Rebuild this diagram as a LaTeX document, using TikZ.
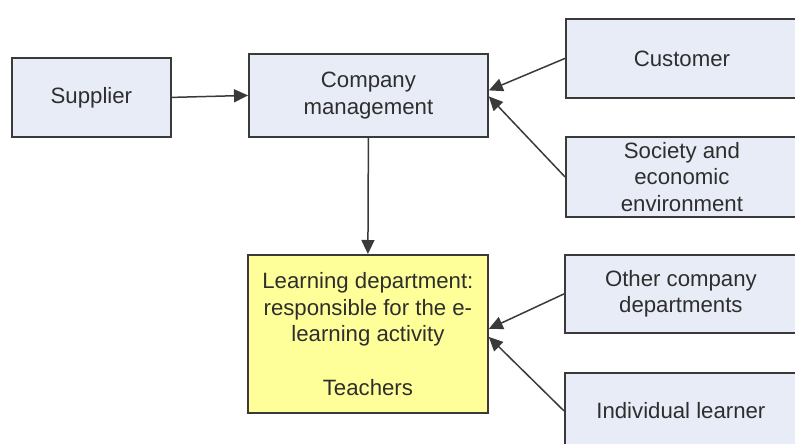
\documentclass[tikz,border=0pt]{standalone}
\usepackage{fontspec}
\setmainfont{Liberation Sans}
\usetikzlibrary{arrows.meta}
\definecolor{boxfill}{HTML}{E8ECF6}
\definecolor{yellowfill}{HTML}{FFFF99}
\definecolor{edge}{HTML}{3A3A3A}
\definecolor{txt}{HTML}{2E2E2E}
\tikzset{
  box/.style={draw=edge, line width=1.8pt, fill=boxfill, anchor=north west,
    inner sep=0pt, align=center, text=txt,
    font=\fontsize{22.2}{26.7}\selectfont},
  conn/.style={draw=edge, line width=1.5pt, -{Triangle[length=14pt,width=13pt]}}
}
\begin{document}
\begin{tikzpicture}[x=1pt,y=-1pt]
\useasboundingbox (0,0) rectangle (795,444);
\clip (0,0) rectangle (795,444);
\node[box, minimum width=159pt, minimum height=79pt] (sup) at (11,57) {Supplier};
\node[box, minimum width=239pt, minimum height=83pt] (cm) at (248,53) {Company\\management};
\node[box, minimum width=232pt, minimum height=79pt] (cus) at (565,18) {Customer};
\node[box, minimum width=232pt, minimum height=80pt] (soc) at (565,136) {Society and\\economic\\environment};
\node[box, fill=yellowfill, minimum width=240pt, minimum height=158pt] (ld) at (247,254) {Learning department:\\responsible for the e-\\learning activity\\[26.7pt]Teachers};
\node[box, minimum width=232pt, minimum height=78pt] (oth) at (564,254) {Other company\\departments};
\node[box, minimum width=232pt, minimum height=76pt] (ind) at (564,372) {Individual learner};
\draw[conn] (sup.east) -- (cm.west);
\draw[conn] (cm.south) -- (ld.north);
\draw[conn] (cus.west) -- ([yshift=5pt]cm.east);
\draw[conn] (soc.west) -- ([yshift=-1pt]cm.east);
\draw[conn] (oth.west) -- ([yshift=5pt]ld.east);
\draw[conn] (ind.west) -- ([yshift=-3pt]ld.east);
\end{tikzpicture}
\end{document}
